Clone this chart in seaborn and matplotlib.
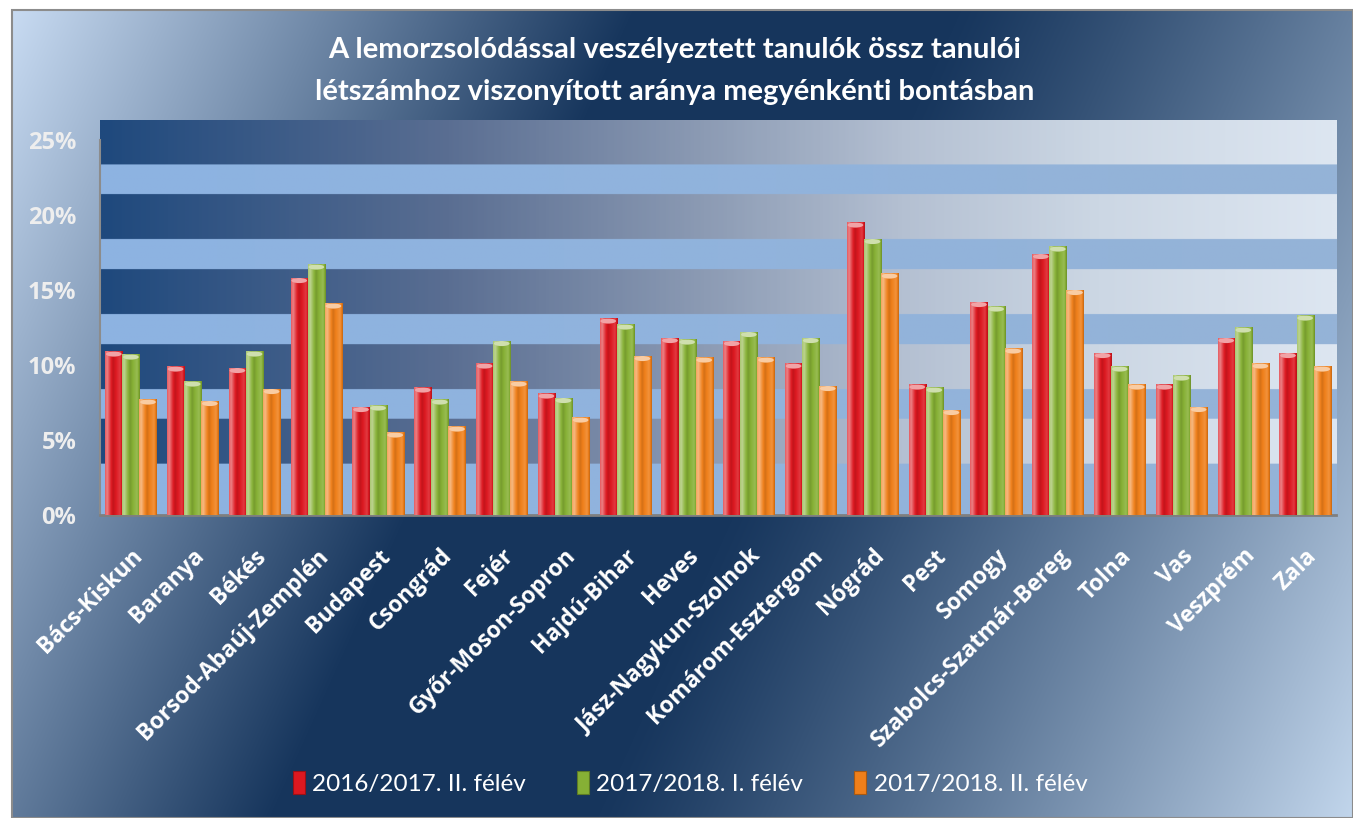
import numpy as np
import pandas as pd
import matplotlib
matplotlib.use("Agg")
import matplotlib.pyplot as plt
import seaborn as sns
from matplotlib.colors import to_rgb, LinearSegmentedColormap
from matplotlib.patches import Rectangle, Ellipse
from matplotlib.ticker import FuncFormatter

# --- data (in %) ---
megyek = ["Bács-Kiskun", "Baranya", "Békés", "Borsod-Abaúj-Zemplén", "Budapest",
          "Csongrád", "Fejér", "Győr-Moson-Sopron", "Hajdú-Bihar", "Heves",
          "Jász-Nagykun-Szolnok", "Komárom-Esztergom", "Nógrád", "Pest", "Somogy",
          "Szabolcs-Szatmár-Bereg", "Tolna", "Vas", "Veszprém", "Zala"]
felevek = ["2016/2017. II. félév", "2017/2018. I. félév", "2017/2018. II. félév"]
ertek_1617_2 = [10.9, 9.9, 9.8, 15.8, 7.2, 8.5, 10.1, 8.1, 13.1, 11.8,
                11.6, 10.1, 19.5, 8.7, 14.2, 17.4, 10.8, 8.7, 11.8, 10.8]
ertek_1718_1 = [10.7, 8.9, 10.9, 16.7, 7.3, 7.7, 11.6, 7.8, 12.7, 11.7,
                12.2, 11.8, 18.4, 8.5, 13.9, 17.9, 9.9, 9.3, 12.5, 13.3]
ertek_1718_2 = [7.7, 7.6, 8.4, 14.1, 5.5, 5.9, 8.9, 6.5, 10.6, 10.5,
                10.5, 8.6, 16.1, 7.0, 11.1, 15.0, 8.7, 7.2, 10.1, 9.9]
cim_1 = "A lemorzsolódással veszélyeztett tanulók össz tanulói"
cim_2 = "létszámhoz viszonyított aránya megyénkénti bontásban"

szinek = ["#dc1820", "#86b035", "#ef7f1a"]

df = pd.DataFrame({
    "megye": megyek * 3,
    "félév": [f for f in felevek for _ in megyek],
    "arány": ertek_1617_2 + ertek_1718_1 + ertek_1718_2,
})

W, H = 1353, 818
fig = plt.figure(figsize=(W / 100, H / 100), dpi=100)
fig.patch.set_facecolor("white")


def mix(c, amount):
    # amount > 0 -> towards white, < 0 -> towards black
    c = np.array(to_rgb(c))
    if amount >= 0:
        return c + (1 - c) * amount
    return c * (1 + amount)


# --- chart area background: diagonal light-dark-light gradient ---
x0, y0 = 12, 10
bw, bh = W - x0, H - y0
bg = fig.add_axes([x0 / W, 0, bw / W, bh / H])
xx, yy = np.meshgrid(np.arange(bw), np.arange(bh))
t = xx + 0.45 * yy
light_a = np.array(to_rgb("#c8dbf2"))
dark = np.array(to_rgb("#17365d"))
light_b = np.array(to_rgb("#c2d6ec"))
t_max = bw + 0.45 * bh
f1 = np.clip(t / 620, 0, 1)[..., None]
f2 = np.clip((t - 950) / (t_max - 950), 0, 1)[..., None] ** 1.15
img = light_a * (1 - f1) + dark * f1
img = img * (1 - f2) + light_b * f2
bg.imshow(img, aspect="auto", extent=(0, 1, 0, 1))
bg.set_axis_off()
fig.add_artist(Rectangle((x0 / W, 0), bw / W, bh / H, transform=fig.transFigure,
                         fill=False, edgecolor="#8c8c8c", lw=1.5))

# --- plot area ---
ax = fig.add_axes([100 / W, (H - 515) / H, 1236 / W, 395 / H])
ymax = 395 / 15

sns.barplot(data=df, x="megye", y="arány", hue="félév", palette=szinek,
            saturation=1, width=0.83, legend=False, ax=ax, zorder=2)

# striped plot-area fill
ny, nx = 800, 400
band_cmap = LinearSegmentedColormap.from_list("band", [
    (0.0, "#1f497d"), (0.28, "#5a6e92"), (0.49, "#8c9bb4"),
    (0.65, "#b4c0d2"), (0.81, "#ccd7e4"), (1.0, "#dde6f1")])
light_cmap = LinearSegmentedColormap.from_list("lband", ["#8db3e2", "#95b3d7"])
xs = np.linspace(0, 1, nx)
dark_row = band_cmap(xs)[:, :3]
light_row = light_cmap(xs)[:, :3]
yvals = np.linspace(ymax, 0, ny)
sotet = np.zeros(ny, dtype=bool)
for lo in [3.4, 8.4, 13.4, 18.4, 23.4]:
    sotet |= (yvals >= lo) & (yvals < lo + 3.0)
area = np.where(sotet[:, None, None], dark_row[None, :, :], light_row[None, :, :])
ax.imshow(area, aspect="auto", extent=(-0.5, len(megyek) - 0.5, 0, ymax), zorder=0)

# cylinder look for the bars
prof_pos = [0.0, 0.12, 0.30, 0.45, 0.6, 0.85, 1.0]
prof_val = [0.30, 0.45, 0.10, -0.12, 0.0, 0.15, -0.18]
prof = np.interp(np.linspace(0, 1, 40), prof_pos, prof_val)
for bar in ax.patches:
    h = bar.get_height()
    if not np.isfinite(h) or h <= 0:
        continue
    bx, w = bar.get_x(), bar.get_width()
    base = bar.get_facecolor()
    row = np.array([mix(base, a) for a in prof])[None, :, :]
    ax.imshow(row, aspect="auto", extent=(bx, bx + w, 0, h), zorder=3)
    ax.add_patch(Ellipse((bx + w / 2, h - 0.17), w * 0.92, 0.34,
                         facecolor=mix(base, 0.6), edgecolor="none", zorder=4))

ax.set_xlim(-0.5, len(megyek) - 0.5)
ax.set_ylim(0, ymax)
ax.set_yticks([0, 5, 10, 15, 20, 25])
ax.yaxis.set_major_formatter(FuncFormatter(lambda v, p: f"{v:.0f}%"))
ax.set_xlabel("")
ax.set_ylabel("")
for s in ["top", "right"]:
    ax.spines[s].set_visible(False)
ax.spines["left"].set_bounds(0, 25)
ax.spines["left"].set_color("#8c8c8c")
ax.spines["left"].set_linewidth(1.5)
ax.spines["bottom"].set_color("#7f7f7f")
ax.spines["bottom"].set_linewidth(2)
ax.tick_params(length=0)
ax.tick_params(axis="y", pad=17, labelsize=17, labelcolor="#eeeeee")
ax.tick_params(axis="x", pad=21)
for lab in ax.get_yticklabels():
    lab.set_fontfamily("Open Sans")
    lab.set_fontweight("bold")
for lab in ax.get_xticklabels():
    lab.set_rotation(45)
    lab.set_ha("right")
    lab.set_va("top")
    lab.set_rotation_mode("anchor")
    lab.set_fontfamily("Open Sans")
    lab.set_fontweight("bold")
    lab.set_fontsize(16.5)
    lab.set_color("white")

# title
fig.text(675 / W, 1 - 50 / H, cim_1, ha="center", va="center", color="white",
         fontsize=21, fontweight="bold", family="Lato")
fig.text(675 / W, 1 - 92 / H, cim_2, ha="center", va="center", color="white",
         fontsize=21, fontweight="bold", family="Lato")

# legend
handles = [Rectangle((0, 0), 1, 1, facecolor=c, edgecolor=mix(c, -0.3), lw=0.8)
           for c in szinek]
fig.legend(handles, felevek, loc="center", bbox_to_anchor=(690 / W, 1 - 783 / H),
           ncol=3, frameon=False, handlelength=0.5, handleheight=1.1,
           handletextpad=0.3, columnspacing=2.1,
           prop={"family": "Lato", "size": 17.5}, labelcolor="white")

fig.savefig("out.png", dpi=100)
